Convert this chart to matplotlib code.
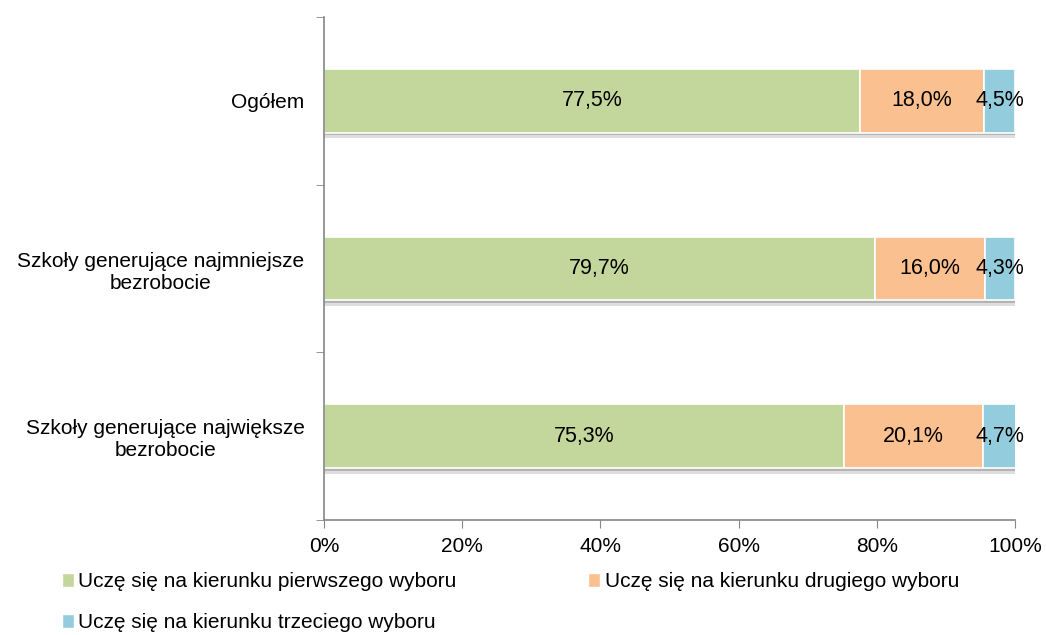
import matplotlib.pyplot as plt
import matplotlib.patheffects as pe
from matplotlib.patches import Patch
import numpy as np

plt.rcParams['font.family'] = ['Liberation Sans', 'DejaVu Sans']

categories = ["Ogółem", "Szkoły generujące najmniejsze\nbezrobocie",
              "Szkoły generujące największe\nbezrobocie"]
first_choice = [77.5, 79.7, 75.3]
second_choice = [18.0, 16.0, 20.1]
third_choice = [4.5, 4.3, 4.7]
series_names = ["Uczę się na kierunku pierwszego wyboru",
                "Uczę się na kierunku drugiego wyboru",
                "Uczę się na kierunku trzeciego wyboru"]
colors = ["#C3D69B", "#FAC090", "#93CDDD"]

fig = plt.figure(figsize=(10.46, 6.35), dpi=100)
ax = fig.add_axes([0.3098, 0.1811, 0.6606, 0.7921])

y = np.arange(len(categories))
left = np.zeros(len(categories))
shadow = [pe.SimplePatchShadow(offset=(0, -4), shadow_rgbFace="#a0a0a0", alpha=0.35),
          pe.SimplePatchShadow(offset=(0, -2), shadow_rgbFace="#808080", alpha=0.45),
          pe.Normal()]
for vals, col in zip([first_choice, second_choice, third_choice], colors):
    bars = ax.barh(y, vals, left=left, height=0.38, color=col, edgecolor="white",
                   linewidth=1.2, path_effects=shadow)
    for b, v in zip(bars, vals):
        ax.text(b.get_x() + b.get_width() / 2, b.get_y() + b.get_height() / 2,
                f"{v:.1f}%".replace(".", ","), ha="center", va="center", fontsize=15.5)
    left += np.array(vals)

ax.set_xlim(0, 100)
ax.set_ylim(2.5, -0.5)
ax.set_xticks(np.arange(0, 101, 20))
ax.set_xticklabels([f"{v}%" for v in range(0, 101, 20)], fontsize=15)
ax.set_yticks(y)
ax.set_yticklabels(categories, fontsize=15, multialignment="center")
ax.tick_params(axis="y", which="major", length=0, pad=14)
ax.set_yticks([-0.5, 0.5, 1.5, 2.5], minor=True)
ax.tick_params(axis="y", which="minor", length=6, color="#868686")
ax.tick_params(axis="x", length=6, color="#868686", pad=6)

for s in ["top", "right"]:
    ax.spines[s].set_visible(False)
for s in ["left", "bottom"]:
    ax.spines[s].set_color("#868686")
    ax.spines[s].set_linewidth(1.2)

# row-major order for a 2-column legend
order = [0, 2, 1]
handles = [Patch(facecolor=colors[i], edgecolor="white") for i in order]
labels = [series_names[i] for i in order]
fig.legend(handles, labels, loc="upper left", bbox_to_anchor=(0.049, 0.115),
           ncol=2, frameon=False, fontsize=15, handlelength=0.6, handleheight=0.6,
           handletextpad=0.2, columnspacing=6.3, labelspacing=1.05, borderpad=0)

fig.savefig("out.png", dpi=100)
